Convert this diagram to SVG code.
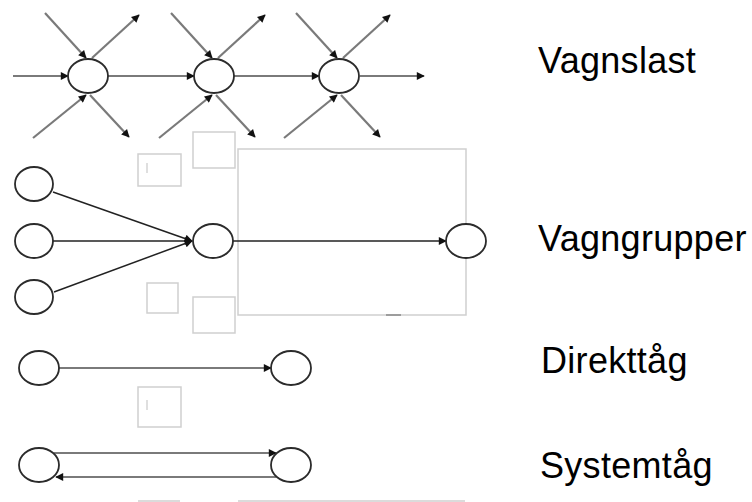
<svg xmlns="http://www.w3.org/2000/svg" width="752" height="502" viewBox="0 0 752 502">
  <style>
    .node { fill: #ffffff; stroke: #2b2b2b; stroke-width: 1.8; }
    .frame { fill: none; stroke: #cfcfcf; stroke-width: 1.5; }
    .tick { stroke: #d4d4d4; stroke-width: 1.5; }
    .flow { fill: none; stroke: #7a7a7a; stroke-width: 2.2; }
    .feed { fill: none; stroke: #222222; stroke-width: 1.5; }
    .label { font-family: "Liberation Sans", Arial, sans-serif; font-size: 36px; fill: #000000; letter-spacing: 0.3px; }
  </style>
  <defs>
    <marker id="head" viewBox="0 0 10 10" refX="9" refY="5" markerWidth="9" markerHeight="8" markerUnits="userSpaceOnUse" orient="auto">
      <path d="M0,0 L10,5 L0,10 Z" fill="#111111"/>
    </marker>
  </defs>

  <rect width="752" height="502" fill="#ffffff"/>

  <!-- empty placeholder frames -->
  <g id="frames">
    <rect class="frame" x="238" y="149" width="228" height="166"/>
    <path d="M386,315 H401" stroke="#888888" stroke-width="1.5"/>
    <rect class="frame" x="193" y="132" width="42" height="36"/>
    <rect class="frame" x="138" y="154" width="43" height="32"/>
    <line class="tick" x1="147" y1="163" x2="147" y2="173"/>
    <rect class="frame" x="147" y="283" width="31" height="30"/>
    <rect class="frame" x="193" y="297" width="42" height="36"/>
    <rect class="frame" x="138" y="387" width="43" height="40"/>
    <line class="tick" x1="147" y1="400" x2="147" y2="410"/>
    <path class="frame" d="M138,501 H180 M238,501 H465"/>
  </g>

  <!-- connectors -->
  <g id="connectors">
    <!-- Vagnslast: through line -->
    <path class="flow" d="M13,76 H68" marker-end="url(#head)"/>
    <path class="flow" d="M108,76 H194" marker-end="url(#head)"/>
    <path class="flow" d="M234,76 H319" marker-end="url(#head)"/>
    <path class="flow" d="M360,76 H424" marker-end="url(#head)"/>
    <!-- Vagnslast: wagons in and out at node 1 -->
    <path class="flow" d="M45,13 L86,58" marker-end="url(#head)"/>
    <path class="flow" d="M92,58 L139,15" marker-end="url(#head)"/>
    <path class="flow" d="M33,138 L86,95" marker-end="url(#head)"/>
    <path class="flow" d="M90,95 L129,137" marker-end="url(#head)"/>
    <!-- node 2 -->
    <path class="flow" d="M171,13 L212,58" marker-end="url(#head)"/>
    <path class="flow" d="M218,58 L265,15" marker-end="url(#head)"/>
    <path class="flow" d="M159,138 L212,95" marker-end="url(#head)"/>
    <path class="flow" d="M216,95 L255,137" marker-end="url(#head)"/>
    <!-- node 3 -->
    <path class="flow" d="M296,13 L337,58" marker-end="url(#head)"/>
    <path class="flow" d="M343,58 L390,15" marker-end="url(#head)"/>
    <path class="flow" d="M284,138 L337,95" marker-end="url(#head)"/>
    <path class="flow" d="M341,95 L380,137" marker-end="url(#head)"/>

    <!-- Vagngrupper -->
    <path class="feed" d="M53,192 L192,241" marker-end="url(#head)"/>
    <path class="feed" d="M53,241 H192" marker-end="url(#head)"/>
    <path class="feed" d="M54,292 L192,241" marker-end="url(#head)"/>
    <path class="feed" d="M233,241 H446" marker-end="url(#head)"/>

    <!-- Direkttåg -->
    <path class="flow" d="M59,368 H271" stroke-width="2.6" marker-end="url(#head)"/>

    <!-- Systemtåg -->
    <path class="flow" d="M54,453 H276" marker-end="url(#head)"/>
    <path class="flow" d="M276,477 H56" marker-end="url(#head)"/>
  </g>

  <!-- Vagnslast nodes -->
  <g id="vs1"><ellipse class="node" cx="88" cy="76" rx="20" ry="17"/></g>
  <g id="vs2"><ellipse class="node" cx="214" cy="76" rx="20" ry="17"/></g>
  <g id="vs3"><ellipse class="node" cx="339" cy="76" rx="20" ry="17"/></g>

  <!-- Vagngrupper nodes -->
  <g id="vg-in1"><ellipse class="node" cx="34" cy="184" rx="19" ry="17"/></g>
  <g id="vg-in2"><ellipse class="node" cx="34" cy="241" rx="19" ry="17"/></g>
  <g id="vg-in3"><ellipse class="node" cx="34" cy="297" rx="19" ry="17"/></g>
  <g id="vg-hub"><ellipse class="node" cx="213" cy="241" rx="20" ry="17"/></g>
  <g id="vg-out"><ellipse class="node" cx="466" cy="241" rx="20" ry="17"/></g>

  <!-- Direkttåg nodes -->
  <g id="dt-a"><ellipse class="node" cx="39" cy="368" rx="20" ry="17"/></g>
  <g id="dt-b"><ellipse class="node" cx="291" cy="368" rx="20" ry="17"/></g>

  <!-- Systemtåg nodes -->
  <g id="st-a"><ellipse class="node" cx="39" cy="465" rx="20" ry="17"/></g>
  <g id="st-b"><ellipse class="node" cx="291" cy="465" rx="20" ry="17"/></g>

  <!-- row labels -->
  <g id="labels">
    <text class="label" x="538" y="73">Vagnslast</text>
    <text class="label" x="538" y="251">Vagngrupper</text>
    <text class="label" x="541" y="373">Direkttåg</text>
    <text class="label" x="540" y="478">Systemtåg</text>
  </g>
</svg>
